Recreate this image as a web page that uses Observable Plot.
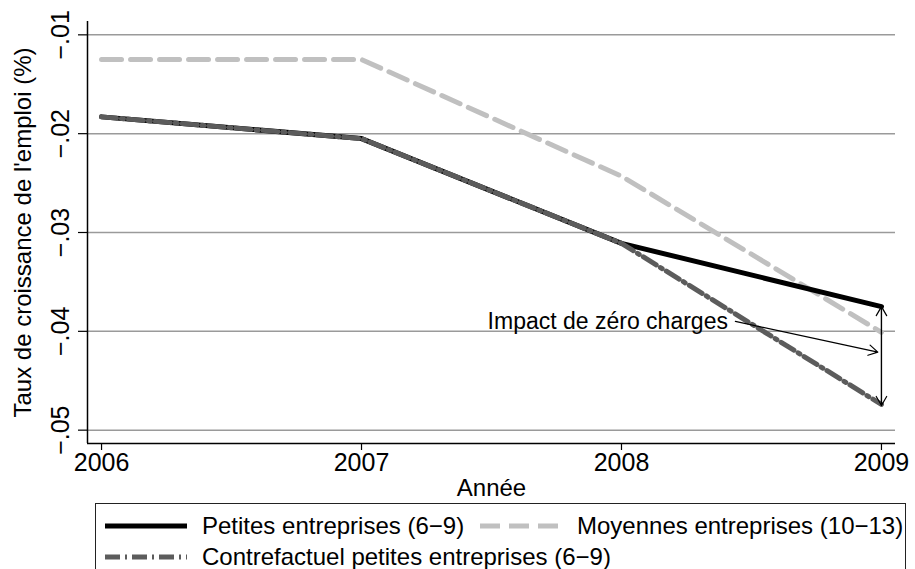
<!DOCTYPE html>
<html><head><meta charset="utf-8">
<script src="https://cdn.jsdelivr.net/npm/d3@7"></script>
<script src="https://cdn.jsdelivr.net/npm/@observablehq/plot@0.6"></script>
<style>
body{margin:0;background:#fff;font-family:"Liberation Sans",Arial,sans-serif;}
#wrap{position:relative;width:915px;height:569px;overflow:hidden;background:#fff;}
#wrap svg.plot{position:absolute;left:0;top:0;}
#legendBox{position:absolute;left:95px;top:503px;width:811px;height:100px;border:1.5px solid #222;box-sizing:border-box;}
.item{position:absolute;font-size:24px;line-height:24px;height:24px;white-space:nowrap;color:#000;}
.sample{position:absolute;}
</style></head><body><div id="wrap"><div id="legendBox"></div></div>
<script>
// ---- data ----
const years = [2006, 2007, 2008, 2009];
const petites = [-0.0183, -0.0205, -0.0311, -0.0375];
const moyennes = [-0.0125, -0.0125, -0.0243, -0.0401];
const contrefactuel = [-0.0183, -0.0205, -0.0311, -0.0474];
const seriesNames = ["Petites entreprises (6−9)", "Moyennes entreprises (10−13)", "Contrefactuel petites entreprises (6−9)"];
const yTicks = [-0.05, -0.04, -0.03, -0.02, -0.01];
const yTickLabels = ["−.05", "−.04", "−.03", "−.02", "−.01"];
const xTitle = "Année";
const yTitle = "Taux de croissance de l'emploi (%)";
const annotText = "Impact de zéro charges";
const annotPos = {x: 2007.485, y: -0.0390};
const annotArrow = {x1: 2008.438, y1: -0.0390, x2: 2008.986, y2: -0.0421};
const impactArrow = {x: 2009, yTop: -0.0375, yBottom: -0.0475};

// ---- build ----
const xDomain = [2005.946, 2009.054];
const yDomain = [-0.05135, -0.00865];
const toRows = (vals, s) => years.map((yr, i) => ({year: yr, value: vals[i], series: s}));
const rowsP = toRows(petites, seriesNames[0]);
const rowsM = toRows(moyennes, seriesNames[1]);
const rowsC = toRows(contrefactuel, seriesNames[2]);

const styles = {
  P: {stroke: "#000000", strokeWidth: 5, strokeLinecap: "round", strokeLinejoin: "round"},
  M: {stroke: "#c0c0c0", strokeWidth: 5, strokeDasharray: "20,9", strokeLinejoin: "round"},
  C: {stroke: "#5c5c5c", strokeWidth: 5, strokeDasharray: "15,5,2,5", strokeLinejoin: "round"}
};

const font = "Liberation Sans, Arial, sans-serif";
const plot = Plot.plot({
  width: 915, height: 503,
  marginLeft: 87, marginRight: 20, marginTop: 21, marginBottom: 60,
  style: {fontFamily: font, fontSize: "25px", color: "#000", background: "transparent", overflow: "visible"},
  x: {domain: xDomain},
  y: {domain: yDomain},
  marks: [
    Plot.gridY(yTicks, {stroke: "#9a9a9a", strokeOpacity: 1, strokeWidth: 1.5}),
    Plot.ruleX([xDomain[0]], {stroke: "#000", strokeWidth: 1.5}),
    Plot.ruleY([yDomain[0]], {stroke: "#000", strokeWidth: 1.5}),
    Plot.axisX(years, {tickSize: 7, tickPadding: 3, tickFormat: d => String(d), label: null, fontSize: 25, strokeWidth: 1.2}),
    Plot.axisY(yTicks, {tickSize: 9, tickFormat: () => "", label: null, strokeWidth: 1.2}),
    Plot.text(yTicks, {y: d => d, text: (d, i) => yTickLabels[i], frameAnchor: "left", dx: -27, rotate: -90, textAnchor: "middle", lineAnchor: "middle", fontSize: 25}),
    Plot.text([yTitle], {text: d => d, frameAnchor: "left", dx: -64, rotate: -90, textAnchor: "middle", lineAnchor: "middle", fontSize: 24}),
    Plot.text([xTitle], {text: d => d, frameAnchor: "bottom", dy: 45, textAnchor: "middle", lineAnchor: "middle", fontSize: 24}),
    Plot.line(rowsM, {x: "year", y: "value", ...styles.M}),
    Plot.line(rowsP, {x: "year", y: "value", ...styles.P}),
    Plot.line(rowsC, {x: "year", y: "value", ...styles.C}),
    Plot.text([annotText], {x: annotPos.x, y: annotPos.y, text: d => d, textAnchor: "start", lineAnchor: "middle", fontSize: 23}),
    Plot.arrow([annotArrow], {x1: "x1", y1: "y1", x2: "x2", y2: "y2", stroke: "#000", strokeWidth: 1.2, headLength: 13, headAngle: 60}),
    Plot.arrow([impactArrow], {x1: "x", y1: "yBottom", x2: "x", y2: "yTop", stroke: "#000", strokeWidth: 1.2, headLength: 13, headAngle: 60}),
    Plot.arrow([impactArrow], {x1: "x", y1: "yTop", x2: "x", y2: "yBottom", stroke: "#000", strokeWidth: 1.2, headLength: 13, headAngle: 60})
  ]
});
const wrap = document.getElementById("wrap");
wrap.insertBefore(plot, wrap.firstChild);

// ---- legend ----
const legendItems = [
  {name: seriesNames[0], st: styles.P, sx: 105, tx: 202, cy: 526},
  {name: seriesNames[1], st: styles.M, sx: 480, tx: 577, cy: 526},
  {name: seriesNames[2], st: styles.C, sx: 105, tx: 202, cy: 557}
];
for (const it of legendItems) {
  const svg = d3.create("svg").attr("class", "sample").attr("width", 82).attr("height", 10)
    .style("left", it.sx + "px").style("top", (it.cy - 5) + "px");
  svg.append("line").attr("x1", 0).attr("x2", 82).attr("y1", 5).attr("y2", 5)
    .attr("stroke", it.st.stroke).attr("stroke-width", it.st.strokeWidth)
    .attr("stroke-dasharray", it.st.strokeDasharray || null);
  wrap.appendChild(svg.node());
  const d = document.createElement("div");
  d.className = "item";
  d.textContent = it.name;
  d.style.left = it.tx + "px";
  d.style.top = (it.cy - 12) + "px";
  wrap.appendChild(d);
}
</script></body></html>
